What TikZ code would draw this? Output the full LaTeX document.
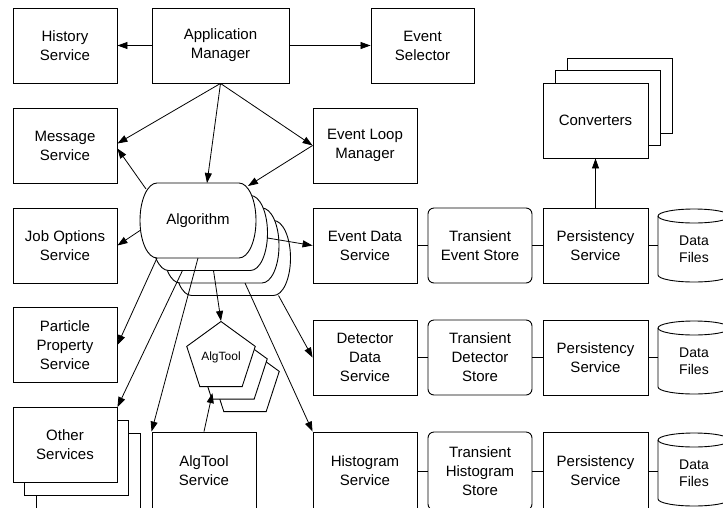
\documentclass[tikz,border=0pt]{standalone}
\usepackage{fontspec}
\setmainfont{Liberation Sans}
\usepackage{tikz}
\usetikzlibrary{arrows.meta, calc, shapes.geometric}

\tikzset{
  svc/.style={draw, fill=white, line width=0.9pt, minimum width=104, minimum height=75,
    align=center, inner sep=2pt, font=\fontsize{15}{19}\selectfont},
  store/.style={svc, rounded corners=6pt},
  algbox/.style={minimum width=116, minimum height=75, outer sep=0pt, inner sep=0pt,
    font=\fontsize{15}{19}\selectfont},
  tool/.style={regular polygon, regular polygon sides=5, draw, fill=white, line width=0.9pt,
    minimum size=72, inner sep=0pt, font=\fontsize{12}{14}\selectfont},
  drum/.style={minimum width=72, minimum height=66, outer sep=0pt, inner sep=0pt,
    align=center, font=\fontsize{14}{17}\selectfont},
  link/.style={line width=0.8pt, -{Triangle[length=10pt,width=7pt]}},
  bond/.style={line width=0.8pt},
}

% 数据文件（圆柱）
\newcommand{\drumline}[1]{%
  \draw[line width=0.9pt] (#1.north) ellipse [x radius=36pt, y radius=7pt];
  \draw[line width=0.9pt] (#1.north west) -- ([yshift=7pt]#1.south west)
    arc[start angle=180, end angle=360, x radius=36pt, y radius=7pt] -- (#1.north east);}

\begin{document}
\begin{tikzpicture}[x=1pt, y=-1pt]

            % 画布
            \useasboundingbox (0,0) rectangle (723,507);
            \clip (0,0) rectangle (723,507);

            % 顶层
            \node[svc] (hist) at (65,45.5) {History\\Service};
            \node[svc, minimum width=137] (appmgr) at (220.5,45.5) {Application\\Manager};
            \node[svc, minimum width=103] (evsel) at (422.5,45.5) {Event\\Selector};

            \node[svc] (msg) at (65,145.5) {Message\\Service};
            \node[svc] (elm) at (365,145.5) {Event Loop\\Manager};

            % 转换器
            \node[svc, minimum width=105] (conv2) at (619.5,95.5) {};
            \node[svc, minimum width=105] (conv1) at (607.5,108) {};
            \node[svc, minimum width=105] (conv) at (595.5,120.5) {Converters};

            % 算法
            \foreach \i/\t in {3/{},2/{},1/{},0/Algorithm} {
                \filldraw[fill=white, line width=0.9pt]
                (157+11.5*\i, 183+12.5*\i)
                -- ++(82,0)
                arc[start angle=90, end angle=-90, x radius=17pt, y radius=37.5pt]
                -- ++(-82,0)
                arc[start angle=270, end angle=90, x radius=17pt, y radius=37.5pt]
                -- cycle;
                \node[algbox] (alg\i) at (198+11.5*\i, 220.5+12.5*\i) {\t};
            }

            % 左列
            \node[svc] (jos) at (65,245.5) {Job Options\\Service};
            \node[svc] (pps) at (65,345) {Particle\\Property\\Service};
            \node[svc] (other2) at (88,471) {};
            \node[svc] (other1) at (76.5,457.5) {};
            \node[svc] (other) at (65,445) {Other\\Services};

            % AlgTool
            \node[tool] (tool2) at (245,382.5) {};
            \node[tool] (tool1) at (233,370) {};
            \node[tool] (tool) at (221,357.5) {AlgTool};
            \node[svc, minimum height=78] (ats) at (204,471) {AlgTool\\Service};

            % 事件
            \node[svc] (evdata) at (365,245.5) {Event Data\\Service};
            \node[store] (tes) at (480,245.5) {Transient\\Event Store};
            \node[svc, minimum width=105] (pers1) at (595.5,245.5) {Persistency\\Service};
            \node[drum] (files1) at (694,249) {Data\\Files};
            \drumline{files1}

            % 探测器
            \node[svc] (dds) at (365,357.5) {Detector\\Data\\Service};
            \node[store] (tds) at (480,357.5) {Transient\\Detector\\Store};
            \node[svc, minimum width=105] (pers2) at (595.5,357.5) {Persistency\\Service};
            \node[drum] (files2) at (694,361) {Data\\Files};
            \drumline{files2}

            % 直方图
            \node[svc, minimum height=78] (hsvc) at (365,471) {Histogram\\Service};
            \node[store, minimum height=78] (ths) at (480,471) {Transient\\Histogram\\Store};
            \node[svc, minimum width=105, minimum height=78] (pers3) at (595.5,471) {Persistency\\Service};
            \node[drum] (files3) at (694,473) {Data\\Files};
            \drumline{files3}

            % 连线
            \draw[link] (appmgr.west) -- (hist.east);
            \draw[link] (appmgr.east) -- (evsel.west);
            \draw[link] (appmgr.south) -- ([yshift=2pt]msg.east);
            \draw[link] (appmgr.south) -- ([xshift=9pt]alg0.north);
            \draw[link] (appmgr.south) -- (elm.west);
            \draw[link] (elm.west) -- ([shift={(-8pt,-3pt)}]alg0.north east);

            \draw[link] ([shift={(6pt,-6pt)}]alg0.north west) -- ([yshift=-3pt]msg.east);
            \draw[link] ([yshift=-10pt]alg0.west) -- (jos.east);
            \draw[link] ([yshift=-5pt]alg1.east) -- (evdata.west);
            \draw[link] ([xshift=17pt]alg0.south west) -- (pps.east);
            \draw[link] ([xshift=31pt]alg1.south west) -- (other.north east);
            \draw[link] (alg0.south) -- (ats.north west);
            \draw[link] ([xshift=4pt]alg1.south) -- (tool.corner 1);
            \draw[link] ([xshift=24pt]alg2.south) -- (hsvc.north west);
            \draw[link] ([xshift=-12pt]alg3.south east) -- (dds.west);
            \draw[link] (ats.north) -- ([yshift=-6pt]$(tool.corner 3)!0.3!(tool.corner 4)$);

            \draw[link] (pers1.north) -- (conv.south);

            \draw[bond] (evdata) -- (tes) -- (pers1);
            \draw[bond] (pers1.east) -- (pers1.east -| files1.west);
            \draw[bond] (dds) -- (tds) -- (pers2);
            \draw[bond] (pers2.east) -- (pers2.east -| files2.west);
            \draw[bond] (hsvc) -- (ths) -- (pers3);
            \draw[bond] (pers3.east) -- (pers3.east -| files3.west);

\end{tikzpicture}
\end{document}
